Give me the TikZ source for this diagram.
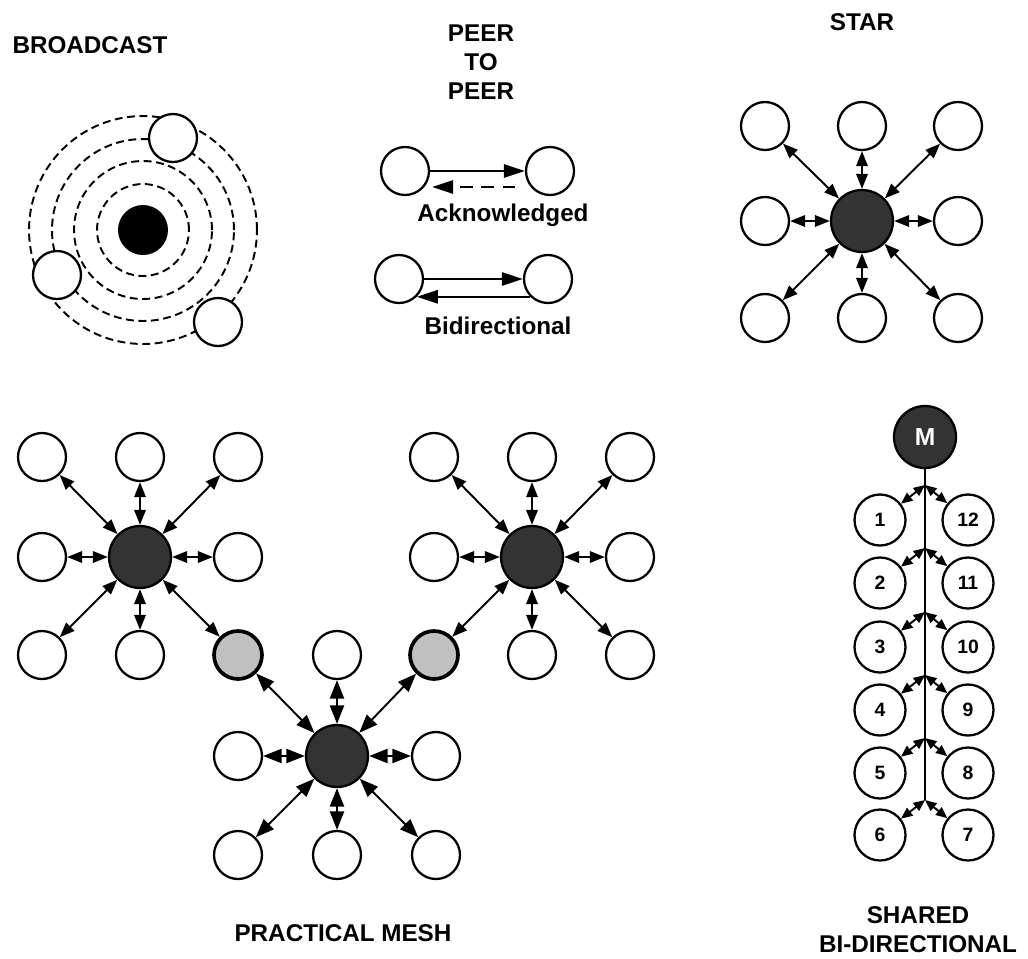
\documentclass[tikz,border=0pt]{standalone}
\usepackage{fontspec}
\setmainfont{Liberation Sans}
\usetikzlibrary{arrows.meta}

\definecolor{hubgray}{HTML}{333333}
\definecolor{relaygray}{HTML}{C0C0C0}

\tikzset{
    peer/.style={circle, draw, fill=white, line width=1.3pt, minimum size=0.96cm, inner sep=0pt},
    hub/.style={circle, draw, fill=hubgray, line width=1.3pt, minimum size=1.24cm, inner sep=0pt},
    relay/.style={peer, fill=relaygray, line width=2.1pt},
    numbered/.style={peer, minimum size=1.02cm, font=\bfseries\fontsize{11}{13}\selectfont},
    link/.style={line width=1.1pt, {Triangle[length=8.5pt,width=6.5pt]}-{Triangle[length=8.5pt,width=6.5pt]}},
    biglink/.style={line width=1.1pt, {Triangle[length=10.5pt,width=8pt]}-{Triangle[length=10.5pt,width=8pt]}},
    buslink/.style={line width=1.1pt, {Triangle[length=6.5pt,width=5.5pt]}-{Triangle[length=6.5pt,width=5.5pt]}},
    oneway/.style={line width=1.4pt, -{Triangle[length=12pt,width=7.5pt]}},
    ring/.style={line width=1.1pt, dash pattern=on 4.5pt off 2.6pt},
    title/.style={font=\bfseries\fontsize{13.8}{16.5}\selectfont, align=center}
}

\begin{document}
\begin{tikzpicture}[x=0.02cm, y=-0.02cm]
    \useasboundingbox (0,0) rectangle (1028,958);

    % broadcast
    \node[title] (tbc) at (90,45) {BROADCAST};
    \node[circle, fill=black, minimum size=1.0cm, inner sep=0pt] (bc) at (143,230) {};
    \foreach \r in {0.92,1.38,1.82,2.28}
        \draw[ring] (bc.center) circle[radius=\r cm];
    \node[peer] (bc1) at (173,138) {};
    \node[peer] (bc2) at (57,275) {};
    \node[peer] (bc3) at (218,322) {};

    % peer to peer
    \node[title] (tp2p) at (481,62) {PEER\\TO\\PEER};
    \node[peer] (ackL) at (405,171) {};
    \node[peer] (ackR) at (550,171) {};
    \draw[oneway] (ackL) -- (ackR);
    \draw[oneway, dash pattern=on 7pt off 5pt] ([shift={(-10,16)}]ackR.west) -- ([shift={(2,16)}]ackL.east);
    \node[title] (tack) at (503,215) {Acknowledged};
    \node[peer] (bidL) at (399,279) {};
    \node[peer] (bidR) at (548,279) {};
    \draw[oneway] (bidL) -- (bidR);
    \draw[oneway] (bidR.225) -- (bidL.-45);
    \node[title] (tbid) at (498,326) {Bidirectional};

    % star
    \node[title] (tstar) at (862,22) {STAR};
    \node[hub] (st) at (862,221) {};
    \foreach \n/\x/\y in {1/765/126, 2/862/126, 3/958/126, 4/765/221,
                          5/958/221, 6/765/318, 7/862/318, 8/958/318} {
        \node[peer] (st\n) at (\x,\y) {};
        \draw[link] (st) -- (st\n);
    }

    % practical mesh
    \node[relay] (g1) at (238,655) {};
    \node[relay] (g2) at (434,655) {};
    \node[hub] (Lc) at (140,557) {};
    \foreach \n/\x/\y in {1/42/457, 2/140/457, 3/238/457, 4/42/557,
                          5/238/557, 6/42/655, 7/140/655} {
        \node[peer] (L\n) at (\x,\y) {};
        \draw[link] (Lc) -- (L\n);
    }
    \draw[link] (Lc) -- (g1);
    \node[hub] (Rc) at (532,557) {};
    \foreach \n/\x/\y in {1/434/457, 2/532/457, 3/630/457, 4/434/557,
                          5/630/557, 7/532/655, 8/630/655} {
        \node[peer] (R\n) at (\x,\y) {};
        \draw[link] (Rc) -- (R\n);
    }
    \draw[link] (Rc) -- (g2);
    \node[hub] (Bc) at (337,756) {};
    \foreach \n/\x/\y in {2/337/655, 4/238/756, 5/436/756,
                          6/238/855, 7/337/855, 8/436/855} {
        \node[peer] (B\n) at (\x,\y) {};
        \draw[biglink] (Bc) -- (B\n);
    }
    \draw[biglink] (Bc) -- (g1);
    \draw[biglink] (Bc) -- (g2);
    \node[title] (tmesh) at (343,933) {PRACTICAL MESH};

    % shared bi-directional
    \node[hub, text=white, font=\bfseries\fontsize{14}{16}\selectfont] (M) at (925,437) {M};
    \foreach \n/\y in {1/520, 2/583, 3/647, 4/710, 5/773, 6/835}
        \coordinate (b\n) at (925,\y-35);
    \draw[line width=1.1pt] (M) -- (b6);
    \foreach \n/\m/\y in {1/12/520, 2/11/583, 3/10/647, 4/9/710, 5/8/773, 6/7/835} {
        \node[numbered] (n\n) at (880,\y) {\n};
        \node[numbered] (n\m) at (968,\y) {\m};
        \draw[buslink] (b\n) -- (n\n);
        \draw[buslink] (b\n) -- (n\m);
    }
    \node[title] (tshared) at (918,930) {SHARED\\BI-DIRECTIONAL};
\end{tikzpicture}
\end{document}
